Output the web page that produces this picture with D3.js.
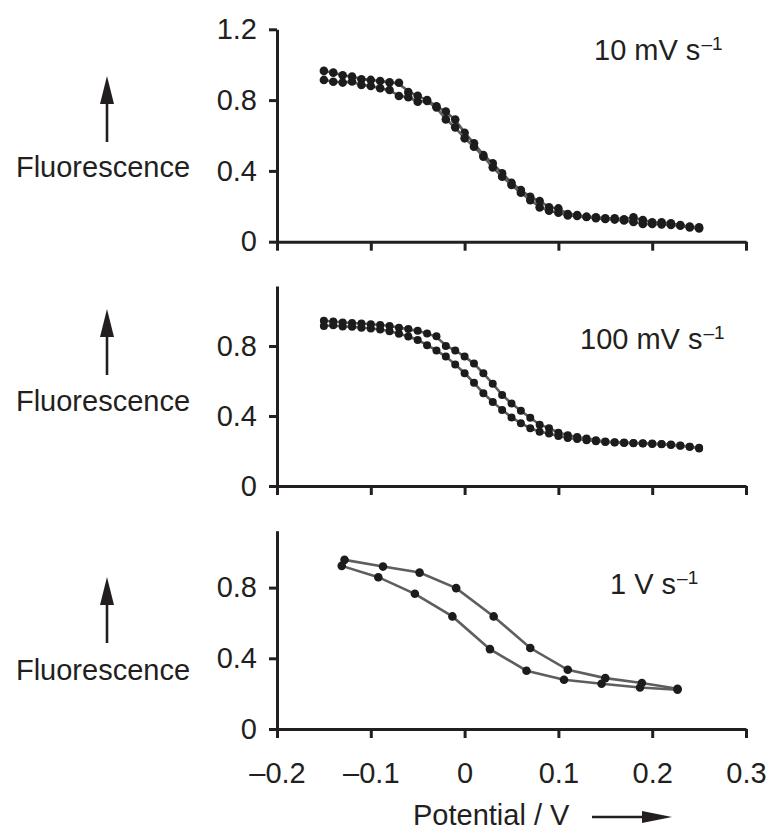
<!DOCTYPE html>
<html>
<head>
  <script src="https://d3js.org/d3.v7.min.js"></script>
  <style>
    body { margin: 0; background: #fff; }
    text { font-family: "Liberation Sans", Arial, Helvetica, sans-serif; fill: #231f20; }
    .axis path, .axis line { stroke: #231f20; stroke-width: 3; fill: none; }
    .axis text { font-size: 29px; fill: #231f20; }
  </style>
</head>
<body>
<svg id="chart"></svg>
<script>
// potential grid (V) used by the 10 and 100 mV/s scans
var scanX = [-0.15, -0.14, -0.13, -0.12, -0.11, -0.10, -0.09, -0.08, -0.07, -0.06,
  -0.05, -0.04, -0.03, -0.02, -0.01, 0.00, 0.01, 0.02, 0.03, 0.04,
  0.05, 0.06, 0.07, 0.08, 0.09, 0.10, 0.11, 0.12, 0.13, 0.14,
  0.15, 0.16, 0.17, 0.18, 0.19, 0.20, 0.21, 0.22, 0.23, 0.24, 0.25];

// 10 mV/s
var fluo10Up = [0.965, 0.955, 0.94, 0.933, 0.918, 0.914, 0.908, 0.90, 0.898, 0.845,
  0.825, 0.80, 0.765, 0.735, 0.69, 0.615, 0.556, 0.49, 0.443, 0.386,
  0.333, 0.292, 0.254, 0.23, 0.194, 0.188, 0.156, 0.151, 0.141, 0.138,
  0.132, 0.132, 0.126, 0.138, 0.122, 0.109, 0.109, 0.104, 0.094, 0.085, 0.081];
var fluo10Down = [0.914, 0.904, 0.899, 0.905, 0.885, 0.88, 0.867, 0.857, 0.823, 0.816,
  0.791, 0.795, 0.759, 0.691, 0.646, 0.584, 0.537, 0.48, 0.42, 0.367,
  0.32, 0.277, 0.235, 0.194, 0.175, 0.164, 0.148, 0.145, 0.14, 0.133,
  0.128, 0.125, 0.12, 0.112, 0.10, 0.10, 0.098, 0.095, 0.09, 0.08, 0.075];

// 100 mV/s
var fluo100Up = [0.944, 0.94, 0.935, 0.932, 0.928, 0.925, 0.92, 0.915, 0.905, 0.897,
  0.887, 0.872, 0.856, 0.80, 0.775, 0.74, 0.70, 0.645, 0.585, 0.52,
  0.472, 0.43, 0.39, 0.35, 0.33, 0.305, 0.29, 0.28, 0.272, 0.262,
  0.255, 0.25, 0.248, 0.246, 0.245, 0.243, 0.24, 0.237, 0.232, 0.225, 0.215];
var fluo100Down = [0.915, 0.918, 0.912, 0.91, 0.905, 0.90, 0.895, 0.885, 0.87, 0.855,
  0.835, 0.805, 0.775, 0.74, 0.695, 0.645, 0.59, 0.53, 0.48, 0.435,
  0.392, 0.358, 0.33, 0.31, 0.30, 0.286, 0.275, 0.268, 0.262, 0.256,
  0.252, 0.248, 0.246, 0.245, 0.243, 0.24, 0.238, 0.234, 0.23, 0.224, 0.218];

// 1 V/s
var scan1VUpX = [-0.128, -0.087, -0.048, -0.009, 0.031, 0.070, 0.110, 0.150, 0.189, 0.227];
var fluo1VUp = [0.957, 0.919, 0.885, 0.797, 0.637, 0.458, 0.335, 0.288, 0.26, 0.228];
var scan1VDownX = [-0.131, -0.092, -0.053, -0.013, 0.027, 0.066, 0.106, 0.146, 0.187, 0.227];
var fluo1VDown = [0.923, 0.859, 0.765, 0.637, 0.452, 0.33, 0.279, 0.256, 0.235, 0.222];

var xTicks = [-0.2, -0.1, 0, 0.1, 0.2, 0.3];
var yTicksTop = [0, 0.4, 0.8, 1.2];
var yTicks = [0, 0.4, 0.8];
var rateLabels = ["10 mV s", "100 mV s", "1 V s"];

var width = 768, height = 830;
var svg = d3.select("#chart").attr("width", width).attr("height", height);

var x = d3.scaleLinear().domain([-0.2, 0.3]).range([277, 746]);

function fmt(d) {
  if (d === 0) return "0";
  return (d < 0 ? "\u2013" : "") + Math.abs(d).toFixed(1);
}

var panels = [
  { y0: 241.7, yTop: 29.3, top: 1.2, ticks: yTicksTop, smooth: true, r: 4.3,
    series: [[scanX, fluo10Up], [scanX, fluo10Down]],
    label: rateLabels[0], lx: 594, ly: 60, fluoY: 177, arrowTip: 76 },
  { y0: 486, yTop: 286, top: 1.143, ticks: yTicks, smooth: true, r: 4,
    series: [[scanX, fluo100Up], [scanX, fluo100Down]],
    label: rateLabels[1], lx: 580, ly: 349, fluoY: 411, arrowTip: 309 },
  { y0: 729, yTop: 530.7, top: 1.122, ticks: yTicks, smooth: false, r: 4.3,
    series: [[scan1VUpX, fluo1VUp], [scan1VDownX, fluo1VDown]],
    label: rateLabels[2], lx: 610, ly: 594, fluoY: 680, arrowTip: 577 }
];

panels.forEach(function(p, pi) {
  var y = d3.scaleLinear().domain([0, p.top]).range([p.y0, p.yTop]);
  var g = svg.append("g");

  var line = d3.line()
    .x(function(d) { return x(d[0]); })
    .y(function(d) { return y(d[1]); })
    .curve(p.smooth ? d3.curveBasis : d3.curveLinear);

  p.series.forEach(function(s) {
    var pts = s[0].map(function(v, i) { return [v, s[1][i]]; });
    g.append("path")
      .datum(pts)
      .attr("d", line)
      .attr("fill", "none")
      .attr("stroke", "#5e5e5e")
      .attr("stroke-width", 2.6);
    g.selectAll(null)
      .data(pts)
      .enter()
      .append("circle")
      .attr("cx", function(d) { return x(d[0]); })
      .attr("cy", function(d) { return y(d[1]); })
      .attr("r", p.r)
      .attr("fill", "#1c1c1c");
  });

  // axes
  g.append("g")
    .attr("class", "axis")
    .attr("transform", "translate(" + x(-0.2) + ",0)")
    .call(d3.axisLeft(y).tickValues(p.ticks).tickSize(8).tickPadding(12)
      .tickSizeOuter(0).tickFormat(fmt));

  var xAxis = d3.axisBottom(x).tickValues(xTicks).tickSize(9).tickSizeOuter(0);
  if (pi === 2) xAxis.tickPadding(24).tickFormat(fmt);
  else xAxis.tickFormat("");
  g.append("g")
    .attr("class", "axis")
    .attr("transform", "translate(0," + p.y0 + ")")
    .call(xAxis);

  // rate label with superscript
  var t = g.append("text")
    .attr("x", p.lx)
    .attr("y", p.ly)
    .style("font-size", "29px")
    .text(p.label);
  t.append("tspan")
    .attr("dy", -10)
    .attr("dx", 1)
    .style("font-size", "19px")
    .text("\u20131");

  // Fluorescence label with arrow
  g.append("text")
    .attr("x", 103)
    .attr("y", p.fluoY)
    .attr("text-anchor", "middle")
    .style("font-size", "29px")
    .text("Fluorescence");
  g.append("line")
    .attr("x1", 107).attr("x2", 107)
    .attr("y1", p.arrowTip + 20).attr("y2", p.arrowTip + 66)
    .attr("stroke", "#231f20")
    .attr("stroke-width", 2.6);
  g.append("path")
    .attr("d", "M107," + p.arrowTip + "L100," + (p.arrowTip + 28) + "L114," + (p.arrowTip + 28) + "Z")
    .attr("fill", "#231f20");
});

// x-axis title with arrow
svg.append("text")
  .attr("x", 413)
  .attr("y", 825)
  .style("font-size", "29px")
  .text("Potential / V");
svg.append("line")
  .attr("x1", 592).attr("x2", 650)
  .attr("y1", 817).attr("y2", 817)
  .attr("stroke", "#231f20")
  .attr("stroke-width", 2.6);
svg.append("path")
  .attr("d", "M672,817L642,811L642,823Z")
  .attr("fill", "#231f20");
</script>
</body>
</html>
